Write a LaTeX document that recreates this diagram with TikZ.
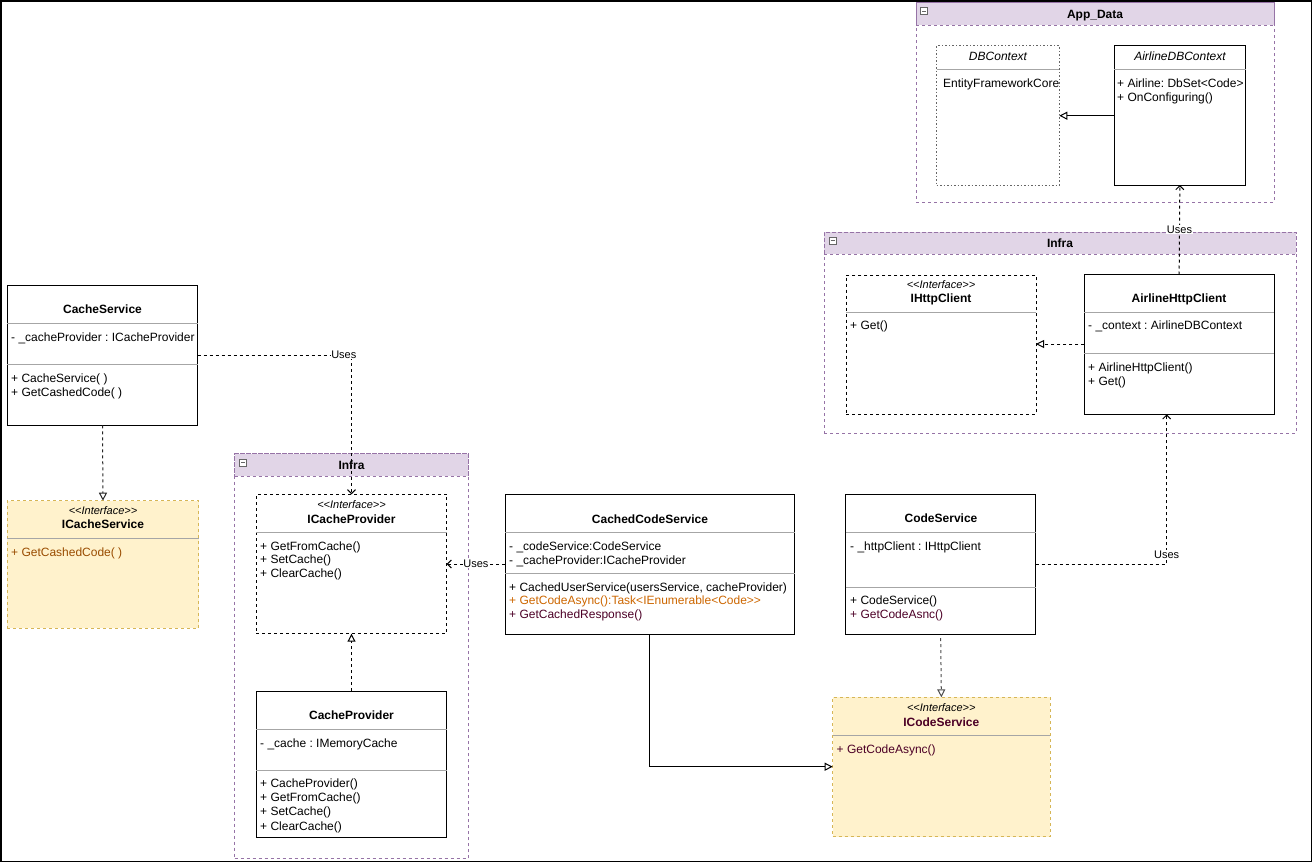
\documentclass[tikz,border=0pt]{standalone}
\usepackage{fontspec}
\setmainfont{Liberation Sans}
\usetikzlibrary{arrows.meta}
\frenchspacing

\definecolor{pkgfill}{HTML}{E1D5E7}
\definecolor{pkgdraw}{HTML}{9673A6}
\definecolor{ifill}{HTML}{FFF2CC}
\definecolor{idraw}{HTML}{D6B656}
\definecolor{orangetxt}{HTML}{CC6600}
\definecolor{browntxt}{HTML}{994C00}
\definecolor{plumtxt}{HTML}{4C0026}

\tikzset{
  box/.style={draw, line width=1pt, inner sep=0pt, outer sep=0pt, anchor=north west},
  classbox/.style={box},
  ifacebox/.style={box, dash pattern=on 3pt off 3pt},
  yellowbox/.style={box, fill=ifill, draw=idraw, dash pattern=on 3pt off 3pt},
  dottedbox/.style={box, draw=black!60, dash pattern=on 1.5pt off 2pt},
  pkghead/.style={box, fill=pkgfill, draw=pkgdraw, dash pattern=on 3pt off 3pt},
  pkg/.style={box, draw=pkgdraw, dash pattern=on 3pt off 3pt},
  togglebox/.style={draw=black!60, fill=white, line width=0.8pt, inner sep=0pt, minimum size=7pt,
    path picture={\draw[line width=0.8pt] ([xshift=1.5pt]path picture bounding box.west) -- ([xshift=-1.5pt]path picture bounding box.east);}},
  txt/.style={inner sep=0pt, text height=8.6pt, text depth=0pt, font=\fontsize{12}{14}\selectfont},
  member/.style={txt, anchor=west},
  classtitle/.style={txt, font=\fontsize{12}{14}\selectfont\bfseries},
  italtitle/.style={txt, font=\fontsize{12}{14}\selectfont\itshape},
  stereo/.style={inner sep=0pt, text height=7.9pt, text depth=0pt, font=\fontsize{11}{13}\selectfont\itshape},
  sepline/.style={draw=black!35, line width=1pt},
  lbl/.style={fill=white, inner sep=0.5pt, text height=7.9pt, text depth=0pt, font=\fontsize{11}{13}\selectfont},
  uses/.style={draw, line width=1pt, dash pattern=on 3pt off 3pt, -{Straight Barb[length=4pt, width=8pt]}},
  realize/.style={draw, line width=1pt, dash pattern=on 3pt off 3pt, -{Triangle[open, length=8pt, width=8pt, fill=white]}},
  inherit/.style={draw, line width=1pt, -{Triangle[open, length=8pt, width=8pt, fill=white]}},
}

\begin{document}
\begin{tikzpicture}[x=1pt, y=-1pt]
\useasboundingbox (0,0) rectangle (1312,862);
\draw[line width=1.5pt] (0.75,0.75) rectangle (1311.25,861.25);

% packages
\node (AppDataHead) at (916,2) [pkghead, minimum width=358pt, minimum height=23pt] {};
\node (AppData) at (916,2) [pkg, minimum width=358pt, minimum height=200pt] {};
\node (AppDataToggle) at (924,11) [togglebox] {};
\node (AppDataTitle) at (1095,14) [classtitle] {App\_Data};

\node (InfraTopHead) at (824,232) [pkghead, minimum width=472pt, minimum height=22pt] {};
\node (InfraTop) at (824,232) [pkg, minimum width=472pt, minimum height=201pt] {};
\node (InfraTopToggle) at (832.5,240.5) [togglebox] {};
\node (InfraTopTitle) at (1060,243.5) [classtitle] {Infra};

\node (InfraLeftHead) at (234.7,453.7) [pkghead, minimum width=233.6pt, minimum height=22.6pt] {};
\node (InfraLeft) at (234.7,453.7) [pkg, minimum width=233.6pt, minimum height=405pt] {};
\node (InfraLeftToggle) at (243,462.5) [togglebox] {};
\node (InfraLeftTitle) at (351.5,465.3) [classtitle] {Infra};

% App_Data classes
\node (DBContext) at (936.7,45.7) [dottedbox, minimum width=122.6pt, minimum height=139.3pt] {};
\node (dbcTitle) at (998,56) [italtitle] {DBContext};
\draw[sepline] (DBContext.west |- 0,69.3) -- (DBContext.east |- 0,69.3);
\node (dbcBody) at (943,82.7) [member] {EntityFrameworkCore};

\node (AirlineDBContext) at (1114,45.7) [classbox, minimum width=131.7pt, minimum height=139.3pt] {};
\node (adcTitle) at (1180,56) [italtitle] {AirlineDBContext};
\draw[sepline] (AirlineDBContext.west |- 0,69.3) -- (AirlineDBContext.east |- 0,69.3);
\node (adcAirline) at (1117,82.7) [member] {+ Airline: DbSet<Code>};
\node (adcConfig) at (1117,97.5) [member] {+ OnConfiguring()};

% Infra (top) classes
\node (IHttpClient) at (846,275) [ifacebox, minimum width=190pt, minimum height=139.3pt] {};
\node (ihcStereo) at (941,285) [stereo] {<{}<Interface>{}>};
\node (ihcTitle) at (941,298.3) [classtitle] {IHttpClient};
\draw[sepline] (IHttpClient.west |- 0,312.7) -- (IHttpClient.east |- 0,312.7);
\node (ihcGet) at (850,325) [member] {+ Get()};

\node (AirlineHttpClient) at (1084.3,274.5) [classbox, minimum width=189.7pt, minimum height=139.8pt] {};
\node (ahcTitle) at (1179,298.3) [classtitle] {AirlineHttpClient};
\draw[sepline] (AirlineHttpClient.west |- 0,312.7) -- (AirlineHttpClient.east |- 0,312.7);
\node (ahcContext) at (1088,325) [member] {- \_context : AirlineDBContext};
\draw[sepline] (AirlineHttpClient.west |- 0,353) -- (AirlineHttpClient.east |- 0,353);
\node (ahcCtor) at (1088,367) [member] {+ AirlineHttpClient()};
\node (ahcGet) at (1088,381) [member] {+ Get()};

% cache service
\node (CacheService) at (7.3,285.7) [classbox, minimum width=190.4pt, minimum height=139.6pt] {};
\node (csTitle) at (102.5,309.3) [classtitle] {CacheService};
\draw[sepline] (CacheService.west |- 0,323.3) -- (CacheService.east |- 0,323.3);
\node (csProvider) at (11,336.7) [member] {- \_cacheProvider : ICacheProvider};
\draw[sepline] (CacheService.west |- 0,364.3) -- (CacheService.east |- 0,364.3);
\node (csCtor) at (11,377.7) [member] {+ CacheService( )};
\node (csGet) at (11,391.7) [member] {+ GetCashedCode( )};

\node (ICacheService) at (7.3,500.7) [yellowbox, minimum width=191.4pt, minimum height=127.6pt] {};
\node (icsStereo) at (103,510.3) [stereo] {<{}<Interface>{}>};
\node (icsTitle) at (103,524.3) [classtitle] {ICacheService};
\draw[sepline] (ICacheService.west |- 0,538.3) -- (ICacheService.east |- 0,538.3);
\node (icsGet) at (11,551.7) [member, text=browntxt] {+ GetCashedCode( )};

% Infra (left) classes
\node (ICacheProvider) at (256.3,494.3) [ifacebox, minimum width=190.4pt, minimum height=139.4pt] {};
\node (icpStereo) at (351.5,504.3) [stereo] {<{}<Interface>{}>};
\node (icpTitle) at (351.5,518.7) [classtitle] {ICacheProvider};
\draw[sepline] (ICacheProvider.west |- 0,532) -- (ICacheProvider.east |- 0,532);
\node (icpGet) at (260,545.7) [member] {+ GetFromCache()};
\node (icpSet) at (260,559.3) [member] {+ SetCache()};
\node (icpClear) at (260,573.3) [member] {+ ClearCache()};

\node (CacheProvider) at (256.3,691) [classbox, minimum width=190.4pt, minimum height=146pt] {};
\node (cpTitle) at (351.5,715.5) [classtitle] {CacheProvider};
\draw[sepline] (CacheProvider.west |- 0,729.3) -- (CacheProvider.east |- 0,729.3);
\node (cpCache) at (260,743) [member] {- \_cache : IMemoryCache};
\draw[sepline] (CacheProvider.west |- 0,770.7) -- (CacheProvider.east |- 0,770.7);
\node (cpCtor) at (260,782.7) [member] {+ CacheProvider()};
\node (cpGet) at (260,797.3) [member] {+ GetFromCache()};
\node (cpSet) at (260,811.5) [member] {+ SetCache()};
\node (cpClear) at (260,825.7) [member] {+ ClearCache()};

% code services
\node (CachedCodeService) at (505,494.3) [classbox, minimum width=289.7pt, minimum height=139.7pt] {};
\node (ccsTitle) at (650,518.7) [classtitle] {CachedCodeService};
\draw[sepline] (CachedCodeService.west |- 0,532.7) -- (CachedCodeService.east |- 0,532.7);
\node (ccsCode) at (509,545.7) [member] {- \_codeService:CodeService};
\node (ccsProvider) at (509,560) [member] {- \_cacheProvider:ICacheProvider};
\draw[sepline] (CachedCodeService.west |- 0,573.3) -- (CachedCodeService.east |- 0,573.3);
\node (ccsCtor) at (509,586.7) [member] {+ CachedUserService(usersService, cacheProvider)};
\node (ccsGet) at (509,600.5) [member, text=orangetxt] {+ GetCodeAsync():Task<IEnumerable<Code>{}>};
\node (ccsCached) at (509,614.5) [member, text=plumtxt] {+ GetCachedResponse()};

\node (CodeService) at (845.7,494.3) [classbox, minimum width=190pt, minimum height=139.7pt] {};
\node (cdsTitle) at (941,518.3) [classtitle] {CodeService};
\draw[sepline] (CodeService.west |- 0,532.3) -- (CodeService.east |- 0,532.3);
\node (cdsClient) at (850,545.7) [member] {- \_httpClient : IHttpClient};
\draw[sepline] (CodeService.west |- 0,587.3) -- (CodeService.east |- 0,587.3);
\node (cdsCtor) at (850,600) [member] {+ CodeService()};
\node (cdsGet) at (850,614.5) [member, text=plumtxt] {+ GetCodeAsnc()};

\node (ICodeService) at (832.7,697.3) [yellowbox, minimum width=217.3pt, minimum height=139.4pt] {};
\node (icdStereo) at (941.3,707.5) [stereo] {<{}<Interface>{}>};
\node (icdTitle) at (941.3,721.7) [classtitle, text=plumtxt] {ICodeService};
\draw[sepline] (ICodeService.west |- 0,735.7) -- (ICodeService.east |- 0,735.7);
\node (icdGet) at (836.5,749) [member, text=plumtxt] {+ GetCodeAsync()};

% connectors
\draw[inherit] (AirlineDBContext.west |- 0,115.7) -- (DBContext.east |- 0,115.7);
\draw[realize] (AirlineHttpClient.west |- 0,344) -- (IHttpClient.east |- 0,344);
\draw[uses] (AirlineHttpClient.north) -- (AirlineDBContext.south) node[midway, lbl] {Uses};
\draw[uses] (CodeService.east |- 0,564.3) -| (AirlineHttpClient.south -| 1166.7,0) node[pos=0.532, lbl] {Uses};
\draw[realize, draw=black!85] (CacheService.south) -- (ICacheService.north);
\draw[uses] (CacheService.east |- 0,355) -| (ICacheProvider.north) node[pos=0.475, lbl] {Uses};
\draw[uses] (CachedCodeService.west |- 0,564) -- (ICacheProvider.east |- 0,564) node[midway, lbl] {Uses};
\draw[realize] (CacheProvider.north) -- (ICacheProvider.south);
\draw[inherit] (CachedCodeService.south) |- (ICodeService.west |- 0,766.7);
\draw[realize, draw=black!70] ([yshift=-4pt]CodeService.south) -- (ICodeService.north);
\end{tikzpicture}
\end{document}
